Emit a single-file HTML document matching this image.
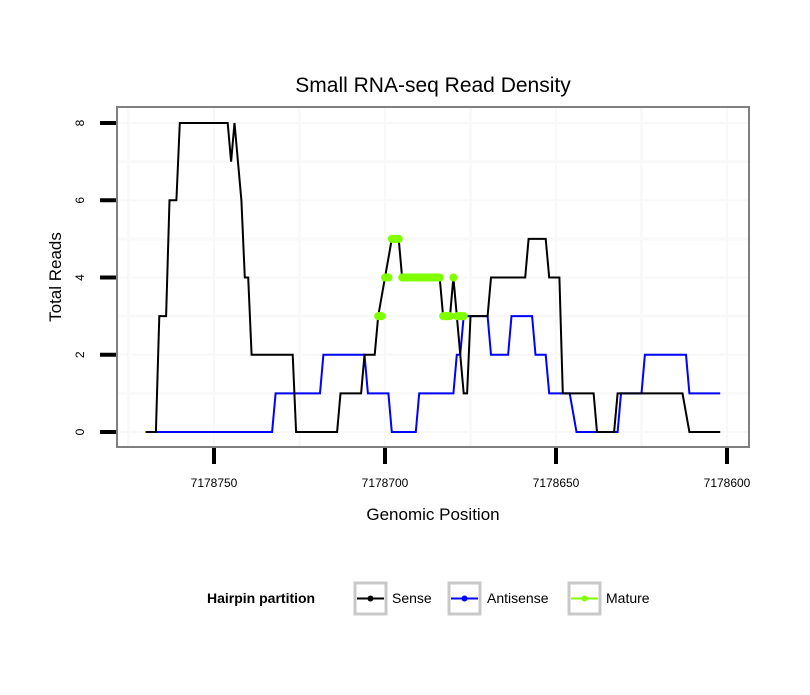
<!DOCTYPE html>
<html><head><meta charset="utf-8"><style>
body{margin:0;background:#fff;font-family:"Liberation Sans",sans-serif;}
</style></head><body>
<svg id="chart" width="810" height="690" xmlns="http://www.w3.org/2000/svg">
<rect width="810" height="690" fill="#fff"/>
<text x="433" y="92" font-size="21" text-anchor="middle">Small RNA-seq Read Density</text>
<g id="grid"></g>
<g id="series"></g>
<rect x="117" y="107" width="632" height="340" fill="none" stroke="#7f7f7f" stroke-width="2"/>
<g id="axes"></g>
<text x="433" y="520" font-size="17" text-anchor="middle">Genomic Position</text>
<text transform="translate(61,277) rotate(-90)" font-size="17" text-anchor="middle">Total Reads</text>
<g>
<text x="207" y="603" font-size="14" font-weight="bold">Hairpin partition</text>
<g>
<rect x="355" y="583" width="31" height="31" fill="#fff" stroke="#c8c8c8" stroke-width="3"/>
<line x1="357" y1="598.5" x2="384" y2="598.5" stroke="#000" stroke-width="2"/><circle cx="370.5" cy="598.5" r="3" fill="#000"/>
<text x="392" y="603" font-size="14">Sense</text></g>
<g>
<rect x="449" y="583" width="31" height="31" fill="#fff" stroke="#c8c8c8" stroke-width="3"/>
<line x1="451" y1="598.5" x2="478" y2="598.5" stroke="#0000ff" stroke-width="2"/><circle cx="464.5" cy="598.5" r="3" fill="#0000ff"/>
<text x="487" y="603" font-size="14">Antisense</text></g>
<g>
<rect x="569" y="583" width="31" height="31" fill="#fff" stroke="#c8c8c8" stroke-width="3"/>
<line x1="571" y1="598.5" x2="598" y2="598.5" stroke="#7fff00" stroke-width="2"/><circle cx="584.5" cy="598.5" r="3" fill="#7fff00"/>
<text x="606" y="603" font-size="14">Mature</text></g>
</g>
</svg>
<script>
const xTicks=[7178750,7178700,7178650,7178600];
const xMinor=[7178775,7178725,7178675,7178625];
const yTicks=[0,2,4,6,8];
const yMinor=[1,3,5,7];
const sensePos=[7178770,7178767,7178766,7178764,7178763,7178761,7178760,7178746,7178745,7178744,7178742,7178741,7178740,7178739,7178727,7178726,7178714,7178713,7178707,7178706,7178703,7178702,7178700,7178698,7178696,7178695,7178684,7178683,7178681,7178680,7178677,7178676,7178675,7178670,7178669,7178659,7178658,7178653,7178652,7178649,7178648,7178639,7178638,7178633,7178632,7178613,7178611,7178602];
const senseVal=[0,0,3,3,6,6,8,8,7,8,6,4,4,2,2,0,0,1,1,2,2,3,4,5,5,4,4,3,3,4,1,1,3,3,4,4,5,5,4,4,1,1,0,0,1,1,0,0];
const antiPos=[7178767,7178733,7178732,7178719,7178718,7178706,7178705,7178699,7178698,7178691,7178690,7178680,7178679,7178678,7178677,7178670,7178669,7178664,7178663,7178657,7178656,7178653,7178652,7178646,7178644,7178632,7178631,7178625,7178624,7178612,7178611,7178602];
const antiVal=[0,0,1,1,2,2,1,1,0,0,1,1,2,2,3,3,2,2,3,3,2,2,1,1,0,0,1,1,2,2,1,1];
const maturePos=[7178702,7178701,7178700,7178699,7178698,7178697,7178696,7178695,7178694,7178693,7178692,7178691,7178690,7178689,7178688,7178687,7178686,7178685,7178684,7178683,7178682,7178681,7178680,7178679,7178678,7178677];
const matureVal=[3,3,4,4,5,5,5,4,4,4,4,4,4,4,4,4,4,4,4,3,3,3,4,3,3,3];

const NS="http://www.w3.org/2000/svg";
const sx=p=>214+(7178750-p)*3.42;
const sy=v=>432-v*38.625;
function mk(tag,attrs,parent){const e=document.createElementNS(NS,tag);for(const k in attrs)e.setAttribute(k,attrs[k]);document.getElementById(parent).appendChild(e);return e;}

xMinor.forEach(p=>{const l=mk('line',{x1:sx(p),x2:sx(p),y1:108,y2:446,stroke:'#f9f9f9','stroke-width':3},'grid');

});
yMinor.forEach(v=>{const l=mk('line',{x1:118,x2:748,y1:sy(v),y2:sy(v),stroke:'#f9f9f9','stroke-width':3},'grid');

});
xTicks.forEach(p=>{const l=mk('line',{x1:sx(p),x2:sx(p),y1:108,y2:446,stroke:'#f8f8f8','stroke-width':2},'grid');


const t=mk('line',{x1:sx(p),x2:sx(p),y1:448,y2:464,stroke:'#000','stroke-width':4},'axes');


const tx=mk('text',{x:sx(p),y:487,'font-size':12,'text-anchor':'middle'},'axes');tx.textContent=p;

});
yTicks.forEach(v=>{const l=mk('line',{x1:118,x2:748,y1:sy(v),y2:sy(v),stroke:'#f8f8f8','stroke-width':2},'grid');


const t=mk('line',{x1:100,x2:116,y1:sy(v),y2:sy(v),stroke:'#000','stroke-width':4},'axes');


const tx=mk('text',{transform:`translate(84,${sy(v)}) rotate(-90)`,'font-size':12,'text-anchor':'middle'},'axes');tx.textContent=v;

});

function line(pos,val,color,name){const d=pos.map((p,i)=>(i?'L':'M')+sx(p).toFixed(1)+','+sy(val[i]).toFixed(1)).join('');
const e=mk('path',{d:d,fill:'none',stroke:color,'stroke-width':2},'series');

}
line(antiPos,antiVal,'#0000ff','antisense-line');
line(sensePos,senseVal,'#000','sense-line');
for(let i=1;i<maturePos.length;i++){if(matureVal[i]===matureVal[i-1]){const s=mk('line',{x1:sx(maturePos[i-1]),x2:sx(maturePos[i]),y1:sy(matureVal[i]),y2:sy(matureVal[i]),stroke:'#7fff00','stroke-width':8},'series');

}}
maturePos.forEach((p,i)=>{const c=mk('circle',{cx:sx(p),cy:sy(matureVal[i]),r:4,fill:'#7fff00'},'series');

});
</script>
</body></html>
